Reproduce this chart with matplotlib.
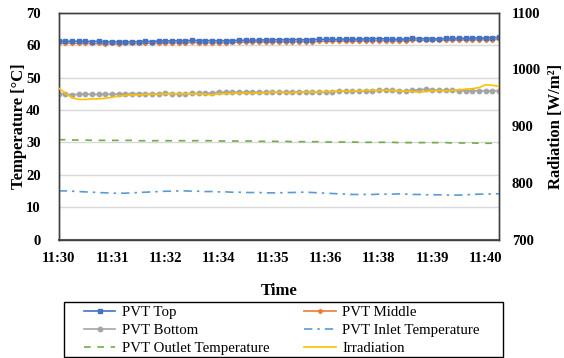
import numpy as np
import matplotlib
matplotlib.use("Agg")
import matplotlib.pyplot as plt
from matplotlib.patches import Rectangle

plt.rcParams['font.family'] = ['Liberation Serif', 'DejaVu Serif']

tick_labels = ["11:30", "11:31", "11:32", "11:34", "11:35", "11:36", "11:38", "11:39", "11:40"]

pvt_top = [61.2, 61.2, 61.2, 61.2, 61.2, 61.1, 61.2, 61.0,
           61.1, 61.0, 61.1, 61.0, 61.1, 61.2, 61.1, 61.3,
           61.3, 61.3, 61.4, 61.3, 61.5, 61.4, 61.4, 61.4,
           61.3, 61.4, 61.4, 61.5, 61.5, 61.5, 61.6, 61.6,
           61.6, 61.7, 61.6, 61.7, 61.7, 61.6, 61.7, 61.8,
           61.8, 61.8, 61.8, 61.9, 61.8, 61.9, 61.9, 62.0,
           62.0, 61.9, 61.9, 61.8, 61.9, 62.1, 62.0, 62.0,
           62.0, 61.9, 62.1, 62.1, 62.1, 62.1, 62.2, 62.2,
           62.2, 62.3, 62.4]

pvt_middle = [60.6, 60.6, 60.6, 60.5, 60.6, 60.5, 60.5, 60.4,
              60.5, 60.4, 60.5, 60.5, 60.5, 60.6, 60.6, 60.7,
              60.7, 60.7, 60.8, 60.7, 60.9, 60.8, 60.8, 60.8,
              60.7, 60.8, 60.9, 60.9, 60.9, 61.0, 61.0, 61.0,
              61.0, 61.1, 61.0, 61.1, 61.1, 61.1, 61.1, 61.2,
              61.2, 61.2, 61.3, 61.3, 61.3, 61.3, 61.4, 61.4,
              61.4, 61.4, 61.4, 61.3, 61.4, 61.5, 61.5, 61.5,
              61.5, 61.5, 61.6, 61.6, 61.6, 61.6, 61.7, 61.7,
              61.7, 61.7, 61.8]

pvt_bottom = [45.0, 44.8, 44.7, 44.8, 44.9, 44.8, 44.8, 44.9,
              44.8, 44.9, 45.0, 45.0, 45.0, 45.0, 44.9, 45.0,
              45.1, 45.0, 45.0, 45.0, 45.1, 45.1, 45.1, 45.2,
              45.5, 45.4, 45.5, 45.5, 45.4, 45.5, 45.4, 45.4,
              45.5, 45.5, 45.4, 45.5, 45.6, 45.5, 45.6, 45.5,
              45.6, 45.6, 45.8, 45.9, 45.8, 45.9, 45.8, 45.9,
              46.0, 46.1, 46.0, 45.9, 45.9, 46.0, 46.2, 46.4,
              46.2, 46.1, 46.0, 46.0, 45.9, 45.9, 45.9, 45.9,
              45.9, 45.9, 45.9]

pvt_inlet = [15.0, 15.0, 14.9, 14.8, 14.7, 14.6, 14.5, 14.4,
             14.3, 14.3, 14.3, 14.4, 14.5, 14.6, 14.7, 14.8,
             14.9, 14.9, 15.0, 15.0, 14.9, 14.9, 14.8, 14.8,
             14.7, 14.7, 14.6, 14.6, 14.5, 14.5, 14.5, 14.4,
             14.4, 14.4, 14.5, 14.5, 14.6, 14.6, 14.5, 14.4,
             14.3, 14.2, 14.1, 14.0, 13.9, 13.9, 13.9, 13.9,
             14.0, 14.0, 14.0, 14.1, 14.0, 13.9, 13.9, 13.8,
             13.8, 13.8, 13.7, 13.7, 13.7, 13.8, 13.9, 14.0,
             14.0, 14.1, 14.1]

pvt_outlet = [30.8, 30.8, 30.7, 30.7, 30.7, 30.6, 30.6, 30.6,
              30.6, 30.6, 30.6, 30.6, 30.5, 30.5, 30.5, 30.5,
              30.5, 30.5, 30.5, 30.5, 30.5, 30.5, 30.5, 30.5,
              30.4, 30.4, 30.4, 30.4, 30.4, 30.4, 30.3, 30.3,
              30.3, 30.3, 30.3, 30.2, 30.2, 30.2, 30.2, 30.2,
              30.1, 30.1, 30.1, 30.1, 30.1, 30.0, 30.0, 30.0,
              30.0, 30.0, 30.0, 29.9, 29.9, 29.9, 29.9, 29.9,
              29.9, 29.9, 29.9, 29.8, 29.8, 29.8, 29.8, 29.7,
              29.7, 29.7, 29.7]

irradiation = [967, 958, 950, 947, 947, 948, 948, 949,
               951, 953, 954, 955, 955, 956, 956, 956,
               957, 957, 957, 957, 957, 957, 956, 955,
               957, 957, 958, 958, 958, 958, 958, 959,
               960, 960, 959, 959, 960, 960, 960, 960,
               961, 961, 962, 962, 962, 962, 963, 963,
               963, 963, 963, 962, 962, 961, 960, 961,
               962, 963, 962, 963, 964, 965, 966, 968,
               973, 972, 970]

x = np.arange(len(pvt_top))

fig = plt.figure(figsize=(5.64, 3.58), dpi=100)
ax = fig.add_axes([0.104, 0.331, 0.781, 0.6335])
ax2 = ax.twinx()

ax.set_axisbelow(True)
ax.yaxis.grid(True, color='#D9D9D9', linewidth=1.0)

l1, = ax.plot(x, pvt_top, color='#4472C4', lw=1.2, marker='s', ms=3.2, label='PVT Top', zorder=5)
l2, = ax.plot(x, pvt_middle, color='#ED7D31', lw=1.2, marker='D', ms=2.2, label='PVT Middle', zorder=4)
l3, = ax.plot(x, pvt_bottom, color='#A5A5A5', lw=1.2, marker='o', ms=3.2, label='PVT Bottom', zorder=4)
l4, = ax.plot(x, pvt_inlet, color='#5B9BD5', lw=1.2, dashes=[5, 3, 1.5, 3], label='PVT Inlet Temperature', zorder=4)
l5, = ax.plot(x, pvt_outlet, color='#70AD47', lw=1.2, dashes=[4, 4], label='PVT Outlet Temperature', zorder=4)
l6, = ax2.plot(x, irradiation, color='#FFC000', lw=1.2, label='Irradiation', zorder=3)

ax.set_xlim(0, len(x) - 1)
ax.set_ylim(0, 70)
ax.set_yticks(np.arange(0, 71, 10))
ax2.set_ylim(700, 1100)
ax2.set_yticks(np.arange(700, 1101, 100))
ax.set_xticks(np.arange(0, len(x), 8)[:len(tick_labels)])
ax.set_xticklabels(tick_labels)

for a in (ax, ax2):
    for s in a.spines.values():
        s.set_color('#404040')
        s.set_linewidth(1.0)
ax.spines['bottom'].set_linewidth(1.5)
ax.spines['bottom'].set_color('#595959')

ax.tick_params(axis='x', length=0, pad=9, labelsize=10.5)
ax.tick_params(axis='y', length=0, pad=13, labelsize=10.5)
ax2.tick_params(axis='y', length=0, pad=9, labelsize=10.5)
for lab in ax.get_xticklabels() + ax.get_yticklabels() + ax2.get_yticklabels():
    lab.set_fontweight('bold')

ax.set_xlabel('Time', fontsize=12, fontweight='bold', labelpad=13)
ax.set_ylabel('Temperature [°C]', fontsize=12, fontweight='bold', labelpad=-1)
ax2.set_ylabel('Radiation [W/m²]', fontsize=12, fontweight='bold', labelpad=5)

leg = fig.legend(handles=[l1, l3, l5, l2, l4, l6], loc='upper left',
                 bbox_to_anchor=(84 / 564, 1 - 306 / 358),
                 ncol=2, fontsize=10.7, frameon=False, numpoints=1,
                 handlelength=2.1, handletextpad=0.45, columnspacing=2.35,
                 labelspacing=0.3, borderpad=0, borderaxespad=0)

fig.add_artist(Rectangle((64 / 564, 1.5 / 358), (503 - 64) / 564, 55 / 358,
                         transform=fig.transFigure, fill=False,
                         edgecolor='black', linewidth=1.0))

fig.savefig('out.png', dpi=100)
